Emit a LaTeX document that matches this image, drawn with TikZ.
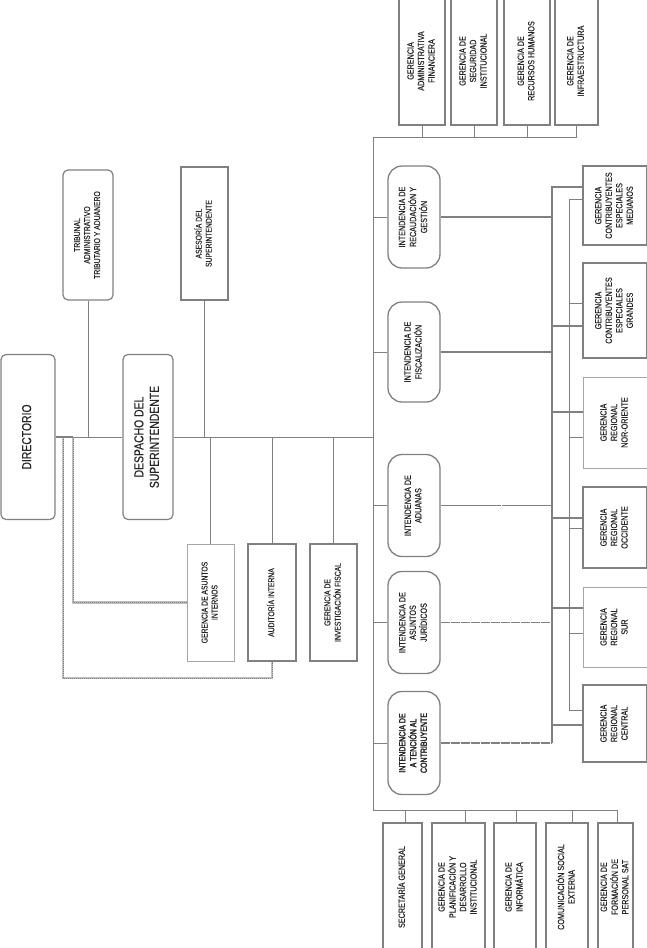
\documentclass[tikz,border=0pt]{standalone}
\usepackage{fontspec}
\setmainfont{Liberation Sans}[FakeStretch=0.8, FakeBold=0.4]
\newfontfamily\boldfam{Liberation Sans}[FakeStretch=0.78, FakeBold=2.5]
\usetikzlibrary{calc}
\newcommand\rtx[3]{\rotatebox{90}{\fontsize{#1}{#2}\selectfont\begin{tabular}{@{}c@{}}#3\end{tabular}}}
\tikzset{
 box/.style={draw=gray, line width=1.2pt, inner sep=0pt, fill=white, align=center, text=black!85},
 lbox/.style={box, draw=gray!70, line width=0.8pt},
 rbox/.style={box, rounded corners=5pt},
 ibox/.style={box, rounded corners=14pt, line width=1.3pt},
 ln/.style={draw=gray, line width=0.7pt},
 tk/.style={draw=gray, line width=1.8pt},
 tkd/.style={tk, dash pattern=on 9pt off 1pt},
 dotl/.style={draw=gray, line width=0.8pt, dash pattern=on 1pt off 1pt, preaction={draw=gray!50, line width=2.6pt, solid}},
}
\begin{document}
\begin{tikzpicture}[x=1pt,y=-1pt]
\useasboundingbox (0,0) rectangle (646,948);
% ---------- top boxes
\node[box, minimum width=46pt, minimum height=128pt] (gaf) at (422,61) {\rtx{9}{10.5}{GERENCIA\\ADMINISTRATIVA\\FINANCIERA}};
\node[box, minimum width=46pt, minimum height=128pt] (gsi) at (474,61) {\rtx{9}{10.5}{GERENCIA DE\\SEGURIDAD\\INSTITUCIONAL}};
\node[box, minimum width=46pt, minimum height=128pt] (grh) at (527,61) {\rtx{9}{10.5}{GERENCIA DE\\RECURSOS HUMANOS}};
\node[box, minimum width=43pt, minimum height=128pt] (gin) at (576.5,61) {\rtx{9}{10.5}{GERENCIA DE\\INFRAESTRUCTURA}};
% ---------- bottom boxes
\node[box, minimum width=39pt, minimum height=128pt] (sg) at (402.5,887) {\rtx{9}{10.5}{SECRETARÍA GENERAL}};
\node[box, minimum width=53pt, minimum height=128pt] (gpd) at (458.5,887) {\rtx{9}{10.5}{GERENCIA DE\\PLANIFICACIÓN Y\\DESARROLLO\\INSTITUCIONAL}};
\node[box, minimum width=42pt, minimum height=128pt] (ginf) at (515,887) {\rtx{9}{10.5}{GERENCIA DE\\INFORMÁTICA}};
\node[box, minimum width=42pt, minimum height=128pt] (csx) at (567,887) {\rtx{9}{10.5}{COMUNICACIÓN SOCIAL\\EXTERNA}};
\node[box, minimum width=35pt, minimum height=128pt] (gfp) at (615.5,887) {\rtx{9}{10.5}{GERENCIA DE\\FORMACIÓN DE\\PERSONAL SAT}};
% ---------- intendencias
\node[ibox, minimum width=52pt, minimum height=102pt] (ira) at (414,217) {\rtx{9}{10.5}{INTENDENCIA DE\\RECAUDACIÓN Y\\GESTIÓN}};
\node[ibox, minimum width=52pt, minimum height=100pt] (ifi) at (414,352) {\rtx{9}{10.5}{INTENDENCIA DE\\FISCALIZACIÓN}};
\node[ibox, minimum width=52pt, minimum height=102pt] (iad) at (414,505.5) {\rtx{9}{10.5}{INTENDENCIA DE\\ADUANAS}};
\node[ibox, minimum width=52pt, minimum height=102pt] (iaj) at (414,622.5) {\rtx{9}{10.5}{INTENDENCIA DE\\ASUNTOS\\JURÍDICOS}};
\node[ibox, minimum width=52pt, minimum height=103pt, font=\boldfam] (iac) at (414,743) {\rtx{9}{10.5}{\boldfam INTENDENCIA DE\\\boldfam A TENCIÓN AL\\\boldfam CONTRIBUYENTE}};
% ---------- gerencias (right)
\node[box, minimum width=64pt, minimum height=79pt] (gcm) at (615,205.5) {\rtx{9}{10.5}{GERENCIA\\CONTRIBUYENTES\\ESPECIALES\\MEDIANOS}};
\node[box, minimum width=64pt, minimum height=95pt] (gcg) at (615,310.5) {\rtx{9}{10.5}{GERENCIA\\CONTRIBUYENTES\\ESPECIALES\\GRANDES}};
\node[lbox, minimum width=64pt, minimum height=91pt] (gno) at (615,422.5) {\rtx{9}{10.5}{GERENCIA\\REGIONAL\\NOR-ORIENTE}};
\node[box, minimum width=64pt, minimum height=81pt] (goc) at (615,527.5) {\rtx{9}{10.5}{GERENCIA\\REGIONAL\\OCCIDENTE}};
\node[lbox, minimum width=64pt, minimum height=80pt] (gsu) at (615,627) {\rtx{9}{10.5}{GERENCIA\\REGIONAL\\SUR}};
\node[box, minimum width=64pt, minimum height=77pt] (gce) at (615,723.5) {\rtx{9}{10.5}{GERENCIA\\REGIONAL\\CENTRAL}};
% ---------- left
\node[rbox, minimum width=54pt, minimum height=165pt] (dir) at (28,437) {\rtx{13}{15.5}{DIRECTORIO}};
\node[rbox, minimum width=50pt, minimum height=165pt] (desp) at (148,437) {\rtx{13}{15.5}{DESPACHO DEL\\SUPERINTENDENTE}};
\node[rbox, minimum width=50pt, minimum height=130pt] (tat) at (88,235) {\rtx{8.5}{10}{TRIBUNAL\\ADMINISTRATIVO\\TRIBUTARIO Y ADUANERO}};
\node[box, minimum width=47pt, minimum height=133pt] (ase) at (204.5,233.5) {\rtx{8.5}{10}{ASESORÍA DEL\\SUPERINTENDENTE}};
\node[lbox, minimum width=47pt, minimum height=117pt] (gai) at (210.5,602.5) {\rtx{8.5}{10}{GERENCIA DE ASUNTOS\\INTERNOS}};
\node[box, minimum width=48pt, minimum height=117pt] (aui) at (272,602.5) {\rtx{8.5}{10}{AUDITORÍA INTERNA}};
\node[box, minimum width=47pt, minimum height=117pt] (gif) at (333.5,602.5) {\rtx{8.5}{10}{GERENCIA DE\\INVESTIGACIÓN FISCAL}};
% ---------- main spine
\coordinate (ctop) at (373,137);
\coordinate (cbot) at (373,810);
\coordinate (m) at (373,437);
\draw[ln] (gin.south |- ctop) -- (ctop) -- (cbot) -- ([xshift=1.5pt]gfp.north |- cbot);
\foreach \b in {gaf,gsi,grh,gin} \draw[ln] (\b.south) -- (\b.south |- ctop);
\draw[ln] ([xshift=2.5pt]sg.north) -- ([xshift=2.5pt]sg.north |- cbot);
\draw[ln] ([xshift=6.5pt]gpd.north) -- ([xshift=6.5pt]gpd.north |- cbot);
\draw[ln] ([xshift=1pt]ginf.north) -- ([xshift=1pt]ginf.north |- cbot);
\draw[ln] ([xshift=5pt]csx.north) -- ([xshift=5pt]csx.north |- cbot);
\draw[ln] ([xshift=1.5pt]gfp.north) -- ([xshift=1.5pt]gfp.north |- cbot);
\foreach \b in {ira,ifi,iad,iaj,iac} \draw[ln] (\b.west) -- (\b.west -| ctop);
% ---------- thick bus
\coordinate (bt) at (552,187);
\coordinate (bb) at (552,743);
\draw[tk] (bt -| gcm.west) -- (bt) -- (bb);
\draw[tk] (ira.east) -- (ira.east -| bt);
\draw[tk] (ifi.east) -- (ifi.east -| bt);
\draw[tk, dash pattern=on 60pt off 1.5pt] (iad.east) -- (iad.east -| bt);
\draw[tkd] (iaj.east) -- (iaj.east -| bt);
\draw[tkd] (iac.east) -- (bb);
\coordinate (b2) at (552,326);
\coordinate (b3) at (552,412);
\coordinate (b4) at (552,518);
\coordinate (b5) at (552,608);
\coordinate (b6) at (552,725);
\draw[tk] (b2) -- (b2 -| gcg.west);
\draw[tk] (b3) -- (b3 -| gno.west);
\draw[tk] (b4) -- (b4 -| goc.west);
\draw[tk] (b5) -- (b5 -| gsu.west);
\draw[tk] (b6) -- (b6 -| gce.west);
% ---------- thin bus
\coordinate (t1) at (569,199);
\coordinate (t6) at (569,710);
\draw[ln] (t1 -| gcm.west) -- (t1) -- (t6) -- (t6 -| gce.west);
\coordinate (t2) at (569,303);
\coordinate (t3) at (569,437);
\coordinate (t4) at (569,528);
\coordinate (t5) at (569,633);
\draw[ln] (t2) -- (t2 -| gcg.west);
\draw[ln] (t3) -- (t3 -| gno.west);
\draw[ln] (t4) -- (t4 -| goc.west);
\draw[ln] (t5) -- (t5 -| gsu.west);
% ---------- left connections
\coordinate (d1) at (63,437);
\coordinate (d2) at (73,437);
\coordinate (d1b) at (63,678);
\draw[ln] (d2) -- (desp.west);
\draw[ln] (desp.east) -- (m);
\draw[ln] (tat.south) -- (tat.south |- m);
\draw[tk] (ase.south) -- (ase.south |- m);
\foreach \b in {gai,aui,gif} \draw[ln] (\b.north) -- (\b.north |- m);
\draw[dotl] (d1) -- (d1b) -| (aui.south);
\draw[dotl] (d2) |- (gai.west);
\draw[tk] (dir.east) -- (d2);
\end{tikzpicture}
\end{document}
